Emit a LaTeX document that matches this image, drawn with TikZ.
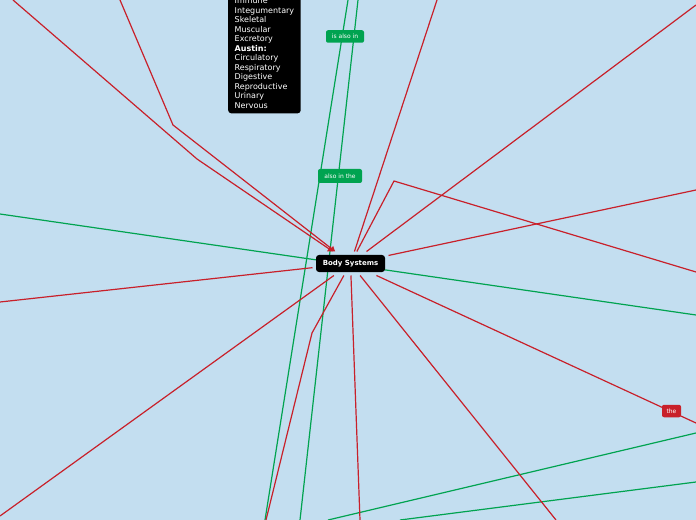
\documentclass[tikz,border=0pt]{standalone}
\usepackage{fontspec}
\setmainfont{DejaVu Sans}
\usetikzlibrary{arrows.meta}
\definecolor{mapbg}{RGB}{195,222,240}
\definecolor{linkred}{RGB}{200,32,42}
\definecolor{linkgreen}{RGB}{0,163,80}
\pgfdeclarelayer{background}
\pgfsetlayers{background,main}
\tikzset{
  topic/.style={fill=black, text=white, rounded corners=3bp, font=\fontsize{7bp}{8bp}\selectfont\bfseries,
    minimum width=69bp, minimum height=17bp, inner sep=2bp, outer sep=3.5bp},
  listbox/.style={fill=black, text=white, rounded corners=3bp, align=left,
    font=\fontsize{8bp}{9.5bp}\selectfont, inner xsep=6.5bp, inner ysep=5bp},
  tag/.style={fill=#1, text=white, rounded corners=2bp, font=\fontsize{6bp}{7bp}\selectfont,
    inner xsep=3bp, minimum height=12.5bp},
  redlink/.style={draw=linkred, line width=1.2bp},
  greenlink/.style={draw=linkgreen, line width=1.2bp},
}
\begin{document}
\begin{tikzpicture}[x=1bp, y=-1bp]
    \useasboundingbox (0,0) rectangle (696,520);

    % Central topic and the list
    \node[topic] (bs) at (350.5,263.5) {Body Systems};
    \node[listbox, anchor=south west] (sys) at (228,113.5) {Immune\\Integumentary\\Skeletal\\Muscular\\Excretory\\\textbf{Austin:}\\Circulatory\\Respiratory\\Digestive\\Reproductive\\Urinary\\Nervous};

    % Ends of the links outside the frame
    \coordinate (ga1) at (348,0);   \coordinate (ga2) at (265,520);
    \coordinate (gb1) at (358,0);   \coordinate (gb2) at (300,520);
    \coordinate (gw) at (0,214);    \coordinate (ge) at (696,315);
    \coordinate (gs1) at (328,520); \coordinate (gs2) at (696,433);
    \coordinate (gt1) at (400,520); \coordinate (gt2) at (696,482);
    \coordinate (r1) at (13,0);     \coordinate (r1b) at (197,159);
    \coordinate (r2) at (120,0);    \coordinate (r2b) at (173,125);
    \coordinate (r3) at (437,0);
    \coordinate (r4) at (696,5);
    \coordinate (r5) at (696,272);  \coordinate (r5b) at (394,181);
    \coordinate (r6) at (696,190);
    \coordinate (r8) at (696,423);
    \coordinate (r9) at (556,520);
    \coordinate (r10) at (360,520);
    \coordinate (r11) at (266,520); \coordinate (r11b) at (312,333);
    \coordinate (r12) at (0,516);
    \coordinate (r13) at (0,302);

    \begin{pgfonlayer}{background}
        \fill[mapbg] (0,0) rectangle (696,520);
        % Green links
        \draw[greenlink] (ga1) -- (ga2);
        \draw[greenlink] (gb1) -- (gb2);
        \draw[greenlink] (gw) -- (ge);
        \draw[greenlink] (gs1) -- (gs2);
        \draw[greenlink] (gt1) -- (gt2);
        % Red links
        \draw[redlink, -{Triangle[length=5bp, width=6bp]}] (r1) -- (r1b) -- (bs);
        \draw[redlink, -{Triangle[length=5bp, width=6bp]}] (r2) -- (r2b) -- (bs);
        \draw[redlink] (r3) -- (bs);
        \draw[redlink] (r4) -- (bs);
        \draw[redlink] (r5) -- (r5b) -- (bs);
        \draw[redlink] (r6) -- (bs);
        \draw[redlink] (bs) -- (r8);
        \draw[redlink] (bs) -- (r9);
        \draw[redlink] (bs) -- (r10);
        \draw[redlink] (bs) -- (r11b) -- (r11);
        \draw[redlink] (bs) -- (r12);
        \draw[redlink] (bs) -- (r13);
    \end{pgfonlayer}

    % Link labels
    \node[tag=linkgreen, minimum width=38bp] (alsoin) at (345,36.5) {is also in};
    \node[tag=linkgreen, minimum width=44bp, minimum height=14bp] (alsointhe) at (340,176) {also in the};
    \node[tag=linkred, minimum width=19bp] (the) at (671.5,411) {the};
\end{tikzpicture}
\end{document}
